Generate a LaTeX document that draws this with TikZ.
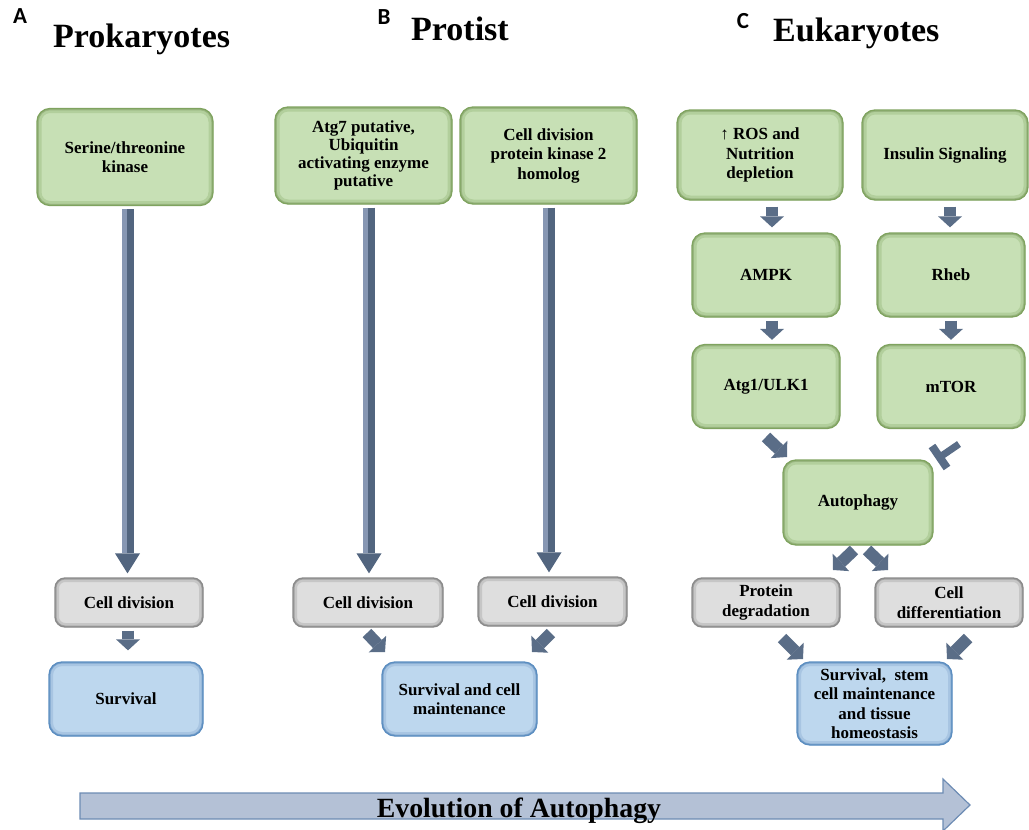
\documentclass[tikz,border=0pt]{standalone}
\usepackage{fontspec}
\setmainfont{Liberation Serif}
\newfontfamily\lblfont{Carlito}
\usetikzlibrary{arrows.meta,calc}
\definecolor{gfill}{HTML}{C7E0B5}
\definecolor{gband}{HTML}{B2CF9C}
\definecolor{gedge}{HTML}{7FA35F}
\definecolor{yfill}{HTML}{DEDEDE}
\definecolor{yband}{HTML}{C6C6C6}
\definecolor{yedge}{HTML}{8A8A8A}
\definecolor{bfill}{HTML}{BDD7EE}
\definecolor{bband}{HTML}{A8C5E2}
\definecolor{bedge}{HTML}{5B8DC0}
\definecolor{adark}{HTML}{52657F}
\definecolor{alight}{HTML}{8797B3}
\definecolor{evfill}{HTML}{B4C1D6}
\definecolor{evedge}{HTML}{6D8CB4}
\tikzset{
  boxfont/.style={font=\fontsize{17}{19.5}\selectfont\bfseries},
  box/.style={rounded corners=13pt, line width=1.3pt, align=center, inner sep=2pt, boxfont},
  gbox/.style={box, draw=gedge, fill=gfill,
    path picture={\draw[line width=9pt, gband, rounded corners=13pt] (path picture bounding box.south west) rectangle (path picture bounding box.north east);
                  \draw[line width=3.5pt, gedge!80, rounded corners=13pt] (path picture bounding box.south west) rectangle (path picture bounding box.north east);}},
  ybox/.style={box, rounded corners=10pt, draw=yedge, fill=yfill,
    path picture={\draw[line width=8pt, yband, rounded corners=10pt] (path picture bounding box.south west) rectangle (path picture bounding box.north east);
                  \draw[line width=3pt, yedge!80, rounded corners=10pt] (path picture bounding box.south west) rectangle (path picture bounding box.north east);}},
  bbox/.style={box, draw=bedge, fill=bfill,
    path picture={\draw[line width=8pt, bband, rounded corners=13pt] (path picture bounding box.south west) rectangle (path picture bounding box.north east);
                  \draw[line width=3pt, bedge!80, rounded corners=13pt] (path picture bounding box.south west) rectangle (path picture bounding box.north east);}},
  hdr/.style={font=\fontsize{34}{37}\selectfont\bfseries, inner sep=0pt},
  lbl/.style={font=\fontsize{23}{25}\selectfont\lblfont\bfseries, inner sep=0pt},
  longarr/.style={draw=adark, line width=12pt, -{Triangle[width=25pt,length=20pt,line width=0pt]}},
  longhi/.style={draw=alight, line width=5pt},
  smallarr/.style={draw=adark!85!alight, line width=12pt, -{Triangle[width=24pt,length=11pt,line width=0pt]}},
  inhib/.style={draw=adark!85!alight, line width=7pt},
}
\begin{document}
\begin{tikzpicture}[x=1pt,y=-1pt]
\useasboundingbox (0,0) rectangle (1029,830);
% headers
\node[lbl] (la) at (20,16) {A};
\node[hdr, anchor=base west] (ha) at (53,47) {Prokaryotes};
\node[lbl] (lb) at (384,17) {B};
\node[hdr, anchor=base west] (hb) at (411,40) {Protist};
\node[lbl] (lc) at (743,21) {C};
\node[hdr, anchor=base west] (hc) at (773,41) {Eukaryotes};

% column A
\node[gbox, minimum width=176pt, minimum height=97pt] (ser) at (125,157) {Serine/threonine\\kinase};
\node[ybox, minimum width=148pt, minimum height=49pt] (cdA) at (129,602.5) {Cell division};
\node[bbox, minimum width=154pt, minimum height=74pt] (survA) at (126,699) {Survival};

% column B
\node[gbox, minimum width=177pt, minimum height=97pt, font=\fontsize{17}{18}\selectfont\bfseries] (atg7) at (363.5,155.5) {Atg7 putative,\\Ubiquitin\\activating enzyme\\putative};
\node[gbox, minimum width=177pt, minimum height=97pt] (cdk) at (548.5,155.5) {Cell division\\protein kinase 2\\homolog};
\node[ybox, minimum width=150pt, minimum height=49pt] (cdB1) at (368,602.5) {Cell division};
\node[ybox, minimum width=149pt, minimum height=49pt] (cdB2) at (552.5,601.5) {Cell division};
\node[bbox, minimum width=155pt, minimum height=74pt] (survB) at (459.5,699) {Survival and cell\\maintenance};

% column C
\node[gbox, minimum width=166pt, minimum height=90pt] (ros) at (760,155) {↑ ROS and\\Nutrition\\depletion};
\node[gbox, minimum width=166pt, minimum height=90pt] (ins) at (945,155) {Insulin Signaling};
\node[gbox, minimum width=148pt, minimum height=84pt] (ampk) at (766,275) {AMPK};
\node[gbox, minimum width=148pt, minimum height=84pt] (rheb) at (951,275) {Rheb};
\node[gbox, minimum width=148pt, minimum height=84pt] (atg1) at (766,386.5) {Atg1/ULK1};
\node[gbox, minimum width=148pt, minimum height=84pt] (mtor) at (951,386.5) {mTOR};
\node[gbox, minimum width=150pt, minimum height=85pt] (auto) at (858,502.5) {Autophagy};
\node[ybox, minimum width=148pt, minimum height=49pt] (prot) at (766,602.5) {Protein\\degradation};
\node[ybox, minimum width=148pt, minimum height=49pt] (cdiff) at (949,602.5) {Cell\\differentiation};
\node[bbox, minimum width=155pt, minimum height=83pt, font=\fontsize{17}{19.5}\selectfont\bfseries] (survC) at (874.5,703.5) {Survival,~ stem\\cell maintenance\\and tissue\\homeostasis};

% long arrows
\draw[longarr] ($(ser.south)+(2.5,3)$) -- ($(ser.south |- cdA.north)+(2.5,-4)$);
\draw[longhi] ($(ser.south)+(-1,3)$) -- ($(ser.south |- cdA.north)+(-1,-24)$);
\draw[longarr] ($(atg7.south)+(5.5,3)$) -- ($(atg7.south |- cdB1.north)+(5.5,-4)$);
\draw[longhi] ($(atg7.south)+(2,3)$) -- ($(atg7.south |- cdB1.north)+(2,-24)$);
\draw[longarr] ($(cdk.south)+(0.5,3)$) -- ($(cdk.south |- cdB2.north)+(0.5,-4)$);
\draw[longhi] ($(cdk.south)+(-3,3)$) -- ($(cdk.south |- cdB2.north)+(-3,-24)$);

% small vertical arrows
\draw[smallarr] ($(cdA.south)+(-1,3)$) -- ($(cdA.south |- survA.north)+(-1,-11)$);
\draw[smallarr] ($(ros.south)+(12,6)$) -- ($(ros.south |- ampk.north)+(12,-5)$);
\draw[smallarr] ($(ins.south)+(5,6)$) -- ($(ins.south |- rheb.north)+(5,-5)$);
\draw[smallarr] ($(ampk.south)+(6,3)$) -- ($(ampk.south |- atg1.north)+(6,-4)$);
\draw[smallarr] ($(rheb.south)+(0,3)$) -- ($(rheb.south |- mtor.north)+(0,-4)$);

% small diagonal arrows
\coordinate (b1s) at (367,633); \coordinate (b1e) at (385,652);
\coordinate (b2s) at (551,633); \coordinate (b2e) at (532,652);
\coordinate (c1s) at (766,437); \coordinate (c1e) at (787,457);
\coordinate (c2s) at (854,550); \coordinate (c2e) at (833,570);
\coordinate (c3s) at (867,550); \coordinate (c3e) at (888,570);
\coordinate (c4s) at (782,638); \coordinate (c4e) at (803,659);
\coordinate (c5s) at (968,638); \coordinate (c5e) at (947,659);
\draw[smallarr] (b1s) -- (b1e);
\draw[smallarr] (b2s) -- (b2e);
\draw[smallarr] (c1s) -- (c1e);
\draw[smallarr] (c2s) -- (c2e);
\draw[smallarr] (c3s) -- (c3e);
\draw[smallarr] (c4s) -- (c4e);
\draw[smallarr] (c5s) -- (c5e);

% inhibition mTOR -| Autophagy
\coordinate (ts) at (959,444); \coordinate (te) at (940,457);
\coordinate (tb1) at (932,446); \coordinate (tb2) at (947,468);
\draw[inhib] (ts) -- (te);
\draw[inhib, line width=8pt] (tb1) -- (tb2);

% evolution arrow
\draw[fill=evfill, draw=evedge, line width=1.2pt] (80,793) -- (943,793) -- (943,779) -- (970,805) -- (943,831) -- (943,819) -- (80,819) -- cycle;
\node[font=\fontsize{27.8}{30}\selectfont\bfseries, inner sep=0pt, anchor=base] (evo) at (519,817) {Evolution of Autophagy};
\end{tikzpicture}
\end{document}
